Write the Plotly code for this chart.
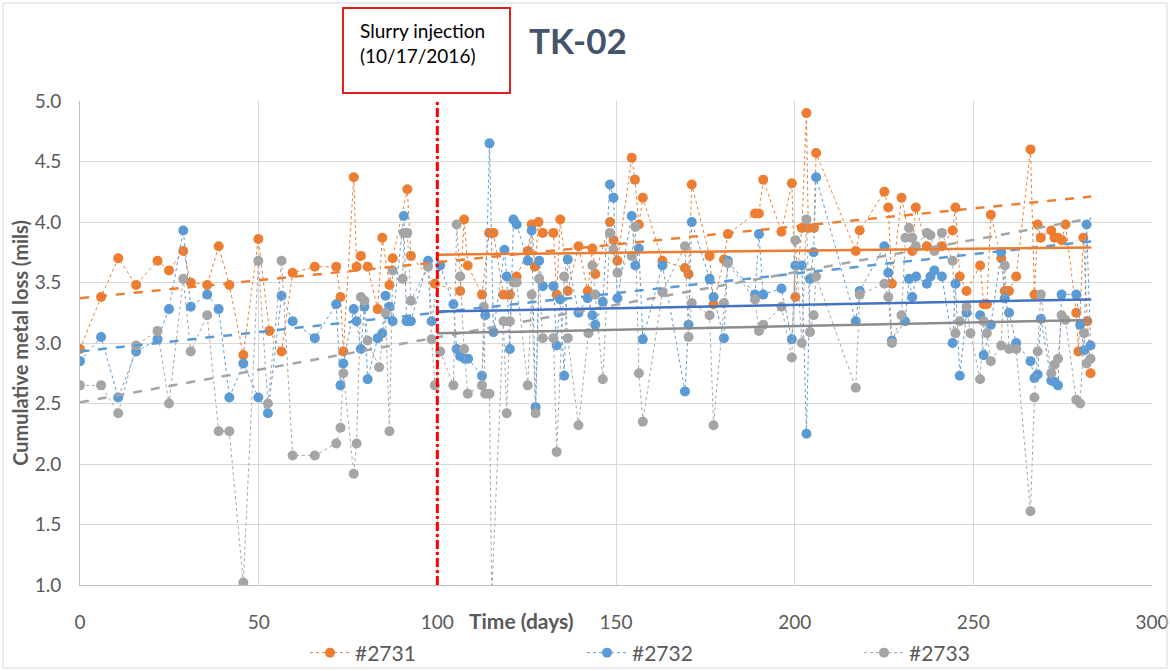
import plotly.graph_objects as go

# ---------------- data ----------------
days_2731 = [0, 5.9, 10.7, 15.7, 21.7, 24.9, 28.9, 31, 35.6, 38.8, 41.8, 45.7, 49.9, 53, 56.4, 59.5,
             65.7, 71.7, 72.9, 73.7, 76.6, 77.4, 78.6, 80.5, 83.3, 84.6, 86.6, 87.5, 91.6, 92.6, 99.3,
             106.4, 107.5, 108.5, 112.5, 114.5, 115.7, 118.5, 120.3, 122.2, 125.3, 126.4, 127.3, 128.3,
             129.5, 132.5, 133.4, 134.4, 136.5, 139.5, 142.1, 143.4, 144.2, 148.3, 149.3, 150.4, 154.4,
             155.3, 156.4, 157.5, 163, 169.3, 170.3, 171.2, 176.2, 177.3, 180.2, 181.3, 188.9, 190,
             191.2, 196.3, 199.2, 200.2, 202, 203.3, 203.8, 205.4, 206, 217.1, 218.2, 225.1, 226.2,
             227.2, 229.9, 232.9, 233.9, 237, 241.2, 244.2, 245, 246.2, 248.1, 251.9, 252.9, 253.8,
             254.9, 257.8, 258.8, 260, 262, 266, 267.1, 268, 268.9, 271.8, 272.7, 273.7, 274.8, 275.8,
             278.8, 279.4, 280.8, 281.9, 282.8]
loss_2731 = [2.95, 3.38, 3.70, 3.48, 3.68, 3.60, 3.76, 3.50, 3.48, 3.80, 3.48, 2.90, 3.86, 3.10, 2.93, 3.58,
             3.63, 3.63, 3.38, 2.93, 4.37, 3.63, 3.72, 3.63, 3.28, 3.87, 3.48, 3.70, 4.27, 3.72, 3.49,
             3.43, 4.02, 3.64, 3.40, 3.91, 3.91, 3.40, 3.40, 3.55, 3.76, 3.98, 3.63, 4.00,
             3.91, 3.91, 3.40, 4.02, 3.43, 3.80, 3.43, 3.78, 3.57, 4.00, 3.85, 3.68, 4.53,
             4.35, 3.98, 4.20, 3.68, 3.62, 3.57, 4.31, 3.72, 3.32, 3.69, 3.90, 4.07, 4.07,
             4.35, 3.92, 4.32, 3.38, 3.95, 4.90, 3.95, 3.95, 4.57, 3.76, 3.93, 4.25, 4.12,
             3.49, 4.20, 3.76, 4.12, 3.80, 3.80, 3.93, 4.12, 3.55, 3.43, 3.64, 3.32, 3.32,
             4.06, 3.70, 3.43, 3.43, 3.55, 4.60, 3.40, 3.98, 3.87, 3.93, 3.87, 3.87, 3.85, 3.98,
             3.25, 2.93, 3.87, 3.18, 2.75]

days_2732 = [0, 5.9, 10.7, 15.7, 21.7, 24.9, 28.9, 31, 35.6, 38.8, 41.8, 45.7, 49.9, 52.6, 56.4, 59.5,
             65.7, 71.7, 72.9, 73.7, 76.6, 77.4, 78.6, 79.6, 80.5, 83.3, 84.6, 85.5, 86.6, 87.5, 90.6,
             91.4, 92.6, 97.4, 98.4, 100.8, 104.5, 105.4, 106.4, 107.7, 108.6, 112.5, 113.4, 114.6,
             115.7, 118.8, 119.4, 120.3, 121.3, 122.2, 125.3, 126.4, 127.5, 128.5, 129.5, 132.5, 133.4,
             134.4, 135.5, 136.5, 139.5, 142.1, 143.4, 144.2, 146.3, 148.3, 149.3, 150.4, 154.4, 155.4,
             156.4, 157.5, 163, 169.3, 170.3, 171.2, 176.2, 177.3, 180.2, 181.3, 188.9, 190, 191.2,
             196.3, 199.2, 200.2, 202, 203.3, 204.3, 205.3, 206, 217.1, 218.2, 225.1, 226.2, 227.2,
             230.9, 232, 232.9, 234, 237, 238, 239.1, 241.2, 244.2, 245, 246.2, 248.1, 251.9, 252.9,
             254.9, 257.8, 258.8, 260, 262, 266, 267.1, 268, 268.9, 271.8, 272.7, 273.7, 274.7, 278.8,
             279.9, 281, 281.7, 282.8]
loss_2732 = [2.85, 3.05, 2.55, 2.93, 3.03, 3.28, 3.93, 3.30, 3.40, 3.28, 2.55, 2.83, 2.55, 2.42, 3.39, 3.18,
             3.04, 3.32, 2.65, 2.83, 3.28, 3.18, 2.95, 3.30, 2.70, 3.04, 3.08, 3.39, 3.30, 3.18, 4.05,
             3.18, 3.18, 3.68, 3.18, 3.64, 3.32, 2.95, 2.89, 2.87, 2.87, 2.73, 3.23, 4.65,
             3.09, 3.77, 3.55, 2.95, 4.02, 3.98, 3.68, 3.93, 2.47, 3.68, 3.47, 3.47, 2.98,
             3.36, 2.73, 3.69, 3.25, 3.37, 3.23, 3.15, 3.34, 4.31, 4.20, 3.37, 4.05, 3.64,
             3.78, 3.03, 3.64, 2.60, 3.15, 4.00, 3.53, 3.38, 3.04, 3.68, 3.40, 3.90, 3.40,
             3.45, 3.03, 3.64, 3.64, 2.25, 3.53, 3.75, 4.37, 3.18, 3.43, 3.80, 3.58, 3.02,
             3.18, 3.53, 3.38, 3.55, 3.49, 3.55, 3.60, 3.55, 3.00, 3.49, 2.73, 3.25, 3.23, 2.90,
             3.15, 3.75, 3.37, 3.25, 3.00, 2.85, 2.71, 2.74, 3.20, 2.69, 2.68, 2.65, 3.40, 3.40,
             3.15, 2.94, 3.98, 2.98]

days_2733 = [0, 5.9, 10.7, 15.7, 21.7, 24.9, 28.9, 31, 35.6, 38.8, 41.8, 45.7, 49.9, 52.6, 56.4, 59.5,
             65.7, 71.7, 72.9, 73.7, 76.6, 77.4, 78.6, 79.6, 80.5, 83.7, 85.5, 86.6, 87.5, 90.3, 90.6,
             91.6, 92.6, 97.4, 98.4, 99.3, 100.8, 104.5, 105.4, 106.4, 107.5, 108.5, 112.5, 113.0,
             113.4, 114.6, 115.2, 118.5, 119.4, 120.3, 121.3, 122.2, 125.3, 126.4, 127.5, 128.5, 129.5,
             132.5, 133.4, 135.5, 136.5, 139.5, 142.3, 143.4, 144.2, 146.3, 148.3, 149.3, 150.4, 154.4,
             155.4, 156.4, 157.5, 163, 169.3, 170.3, 171.2, 176.2, 177.3, 180.2, 181.3, 188.9, 190,
             191.2, 196.3, 199.2, 200.2, 202, 203.3, 204.3, 205.3, 206, 217.1, 218.2, 225.1, 226.2,
             227.2, 229.9, 231, 232, 232.9, 233.9, 237, 238, 239.1, 241.2, 244.2, 245, 246.2, 248.1,
             249.2, 251.9, 252.9, 253.8, 254.9, 257.8, 258.8, 260, 262, 266, 267.1, 268, 268.9, 271.8,
             272.7, 273.7, 274.7, 275.8, 278.8, 279.9, 281, 281.7, 282.8]
loss_2733 = [2.65, 2.65, 2.42, 2.98, 3.10, 2.50, 3.53, 2.93, 3.23, 2.27, 2.27, 1.02, 3.68, 2.50, 3.68, 2.07,
             2.07, 2.17, 2.30, 2.75, 1.92, 2.17, 3.38, 3.35, 3.02, 2.80, 3.25, 2.27, 3.60, 3.53, 3.91,
             3.91, 3.35, 3.63, 3.03, 2.65, 2.93, 2.65, 3.98, 3.55, 2.95, 2.58, 2.65, 3.30,
             2.58, 2.58, 0.90, 3.18, 2.42, 3.18, 3.50, 3.50, 2.65, 3.40, 2.42, 3.53, 3.04,
             3.04, 2.10, 3.55, 3.04, 2.32, 3.08, 3.64, 3.40, 2.70, 3.91, 3.77, 3.58, 3.72,
             3.96, 2.75, 2.35, 3.42, 3.80, 3.05, 3.33, 3.23, 2.32, 3.33, 3.66, 3.36, 3.10,
             3.15, 3.30, 2.88, 3.85, 3.00, 4.02, 3.09, 3.23, 3.55, 2.63, 3.40, 3.49, 3.38,
             3.00, 3.23, 3.87, 3.95, 3.87, 3.80, 3.91, 3.89, 3.76, 3.91, 3.68, 3.08, 3.18, 3.30,
             3.08, 2.70, 3.18, 3.08, 2.85, 2.98, 3.64, 2.95, 2.95, 1.61, 2.55, 2.93, 3.40, 2.75,
             2.82, 2.87, 3.23, 3.19, 2.53, 2.50, 3.08, 2.83, 2.87]

# linear trend lines: pre-injection fit extended, post-injection fit
pre_trend_days = [0, 283]
pre_trend_2731 = [3.37, 4.21]
pre_trend_2732 = [2.93, 3.84]
pre_trend_2733 = [2.51, 4.03]
post_trend_days = [100, 283]
post_trend_2731 = [3.73, 3.79]
post_trend_2732 = [3.26, 3.36]
post_trend_2733 = [3.08, 3.19]

injection_day = 100
series_names = ["#2731", "#2732", "#2733"]
x_ticks = [0, 50, 100, 150, 200, 250, 300]
y_ticks = [1.0, 1.5, 2.0, 2.5, 3.0, 3.5, 4.0, 4.5, 5.0]

# ---------------- styling ----------------
C_OR = "#ED7D31"
C_BL = "#5B9BD5"
C_GR = "#A5A5A5"
FONT = "Lato"
TXT = "#595959"
PW = 1072.0   # plot width in px
PH = 484.0    # plot height in px

fig = go.Figure()

for d, v, c, n in [(days_2731, loss_2731, C_OR, series_names[0]),
                   (days_2732, loss_2732, C_BL, series_names[1]),
                   (days_2733, loss_2733, C_GR, series_names[2])]:
    fig.add_trace(go.Scatter(x=d, y=v, name=n, mode="lines+markers",
                             line=dict(color=c, width=1, dash="dot"),
                             marker=dict(color=c, size=10)))

for yv, c in [(pre_trend_2731, C_OR), (pre_trend_2732, C_BL), (pre_trend_2733, C_GR)]:
    fig.add_trace(go.Scatter(x=pre_trend_days, y=yv, mode="lines", showlegend=False,
                             line=dict(color=c, width=2.5, dash="dash"), hoverinfo="skip"))
for yv, c in [(post_trend_2731, "#ED7D31"), (post_trend_2732, "#4472C4"), (post_trend_2733, "#8C8C8C")]:
    fig.add_trace(go.Scatter(x=post_trend_days, y=yv, mode="lines", showlegend=False,
                             line=dict(color=c, width=2.5), hoverinfo="skip"))

# injection line
fig.add_shape(type="line", x0=injection_day, x1=injection_day, xref="x", y0=0, y1=1, yref="paper",
              line=dict(color="#FF0000", width=3, dash="dashdot"), layer="above")

# outer chart border
fig.add_shape(type="rect", xref="paper", yref="paper",
              x0=(3 - 80) / PW, x1=(1167 - 80) / PW, y0=(585 - 668) / PH, y1=(585 - 3) / PH,
              line=dict(color="#D9D9D9", width=1), fillcolor="rgba(0,0,0,0)")

# annotation box
fig.add_shape(type="rect", xref="paper", yref="paper",
              x0=(343 - 80) / PW, x1=(510 - 80) / PW, y0=(585 - 93) / PH, y1=(585 - 8) / PH,
              line=dict(color="#E0201B", width=2), fillcolor="white")
fig.add_annotation(xref="paper", yref="paper", x=(358 - 80) / PW, y=(585 - 17) / PH,
                   xanchor="left", yanchor="top",
                   text="Slurry injection<br>(10/17/2016)", showarrow=False, align="left",
                   font=dict(family=FONT, size=19, color="#000000"))

# title
fig.add_annotation(xref="paper", yref="paper", x=(578 - 80) / PW, y=(585 - 40) / PH,
                   text="<b>TK-02</b>", showarrow=False, xanchor="center", yanchor="middle",
                   font=dict(family=FONT, size=35, color="#44546A"))

# x axis title placed inline with tick labels
fig.add_annotation(xref="paper", yref="paper", x=(521 - 80) / PW, y=(585 - 620) / PH,
                   text="<b>Time (days)</b>", showarrow=False, xanchor="center", yanchor="middle",
                   font=dict(family=FONT, size=21, color=TXT))

fig.update_layout(
    width=1170, height=671,
    margin=dict(l=80, r=18, t=101, b=86, autoexpand=False),
    paper_bgcolor="white", plot_bgcolor="white",
    font=dict(family=FONT, size=19, color=TXT),
    showlegend=True,
    legend=dict(orientation="h", x=(305 - 80) / PW, xanchor="left", y=(585 - 653) / PH,
                yanchor="middle", entrywidth=222, entrywidthmode="pixels",
                font=dict(family=FONT, size=21, color=TXT), itemwidth=40,
                bgcolor="rgba(0,0,0,0)"),
    xaxis=dict(range=[0, 300], tickvals=x_ticks, showgrid=True, gridcolor="#D9D9D9", gridwidth=1,
               zeroline=False, showline=True, linecolor="#BFBFBF", linewidth=1,
               ticks="", ticklabelstandoff=20, tickfont=dict(size=19, color=TXT)),
    yaxis=dict(range=[1.0, 5.0], tickvals=y_ticks, tickformat=".1f", showgrid=True,
               gridcolor="#D9D9D9", gridwidth=1, zeroline=False, showline=True,
               linecolor="#BFBFBF", linewidth=1, ticks="", ticklabelstandoff=14,
               tickfont=dict(size=19, color=TXT),
               title=dict(text="<b>Cumulative metal loss (mils)</b>", standoff=0,
                          font=dict(family=FONT, size=20, color=TXT))),
)

fig.write_html("out.html")
